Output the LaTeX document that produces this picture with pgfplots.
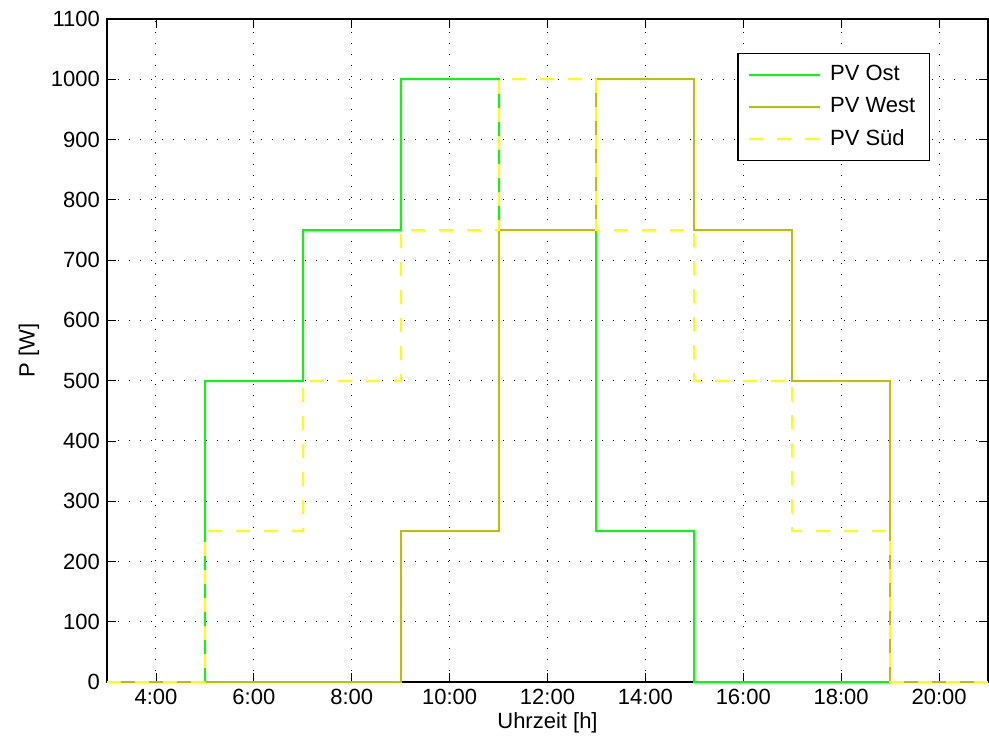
\documentclass[border=0pt]{standalone}
\usepackage{pgfplots}
\pgfplotsset{compat=1.18}
\usepackage{fontspec}
\setmainfont{Liberation Sans}
\definecolor{ost}{RGB}{0,255,0}
\definecolor{west}{RGB}{191,191,0}
\definecolor{sued}{RGB}{255,255,0}
\begin{document}
\begin{tikzpicture}
\begin{axis}[
  at={(0,0)}, anchor=south west,
  scale only axis,
  width=440.5pt, height=331.5pt,
  xmin=3, xmax=21, ymin=0, ymax=1100,
  xtick={4,6,...,20},
  xticklabels={4:00,6:00,8:00,10:00,12:00,14:00,16:00,18:00,20:00},
  ytick={0,100,...,1100},
  tick align=inside,
  xtick pos=both, ytick pos=both,
  major tick length=4.5pt,
  tick style={black, line width=0.4pt},
  grid=major,
  major grid style={black, line width=0.5pt, dash pattern=on 0.5pt off 5pt},
  axis line style={black, line width=0.6pt},
  /pgf/number format/assume math mode=true,
  /pgf/number format/1000 sep={},
  ticklabel style={font=\fontsize{11}{13}\selectfont},
  label style={font=\fontsize{11}{13}\selectfont},
  xlabel={Uhrzeit [h]},
  ylabel={P [W]},
  xlabel style={yshift=3pt},
  ylabel style={yshift=-1pt},
  legend style={at={(0.934,0.949)}, anchor=north east, draw=black, line width=0.6pt,
    font=\fontsize{11}{13}\selectfont, row sep=3pt, inner xsep=5pt, inner ysep=4pt},
  legend cell align=left,
  legend image code/.code={\draw[#1] (0pt,0pt) -- (35.5pt,0pt); \path (38pt,0pt);},
]
\addplot[const plot, color=ost, line width=1pt] coordinates {
  (3,0) (5,500) (7,750) (9,1000) (11,750) (13,250) (15,0) (21,0)};
\addlegendentry{PV Ost}
\addplot[const plot, color=west, line width=1pt] coordinates {
  (3,0) (9,250) (11,750) (13,1000) (15,750) (17,500) (19,0) (21,0)};
\addlegendentry{PV West}
\addplot[const plot, color=sued, line width=1pt, dash pattern=on 7pt off 7pt] coordinates {
  (3,0) (5,250) (7,500) (9,750) (11,1000) (13,750) (15,500) (17,250) (19,0) (21,0)};
\addlegendentry{PV S\"ud}
\end{axis}
\pgfresetboundingbox
\useasboundingbox (-53.5pt,-31.5pt) rectangle (441pt,341pt);
\end{tikzpicture}
\end{document}
